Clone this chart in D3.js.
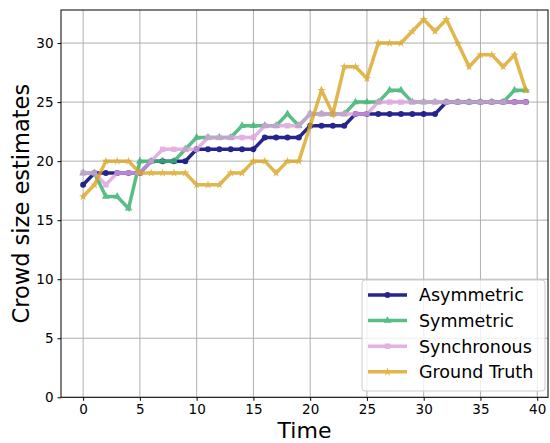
<!DOCTYPE html>
<html>
<head>
<meta charset="utf-8">
<script src="https://cdn.jsdelivr.net/npm/d3@7"></script>
<style>
  html, body { margin: 0; padding: 0; background: #fff; }
  svg { display: block; font-family: "DejaVu Sans", sans-serif; }
</style>
</head>
<body>
<svg id="chart" width="550" height="443"></svg>
<script>
const time = d3.range(0, 40);
const asymmetric = [18,19,19,19,19,19,20,20,20,20,21,21,21,21,21,21,22,22,22,22,23,23,23,23,24,24,24,24,24,24,24,24,25,25,25,25,25,25,25,25];
const symmetric  = [19,19,17,17,16,20,20,20,20,21,22,22,22,22,23,23,23,23,24,23,24,24,24,24,25,25,25,26,26,25,25,25,25,25,25,25,25,25,26,26];
const synchronous= [19,19,18,19,19,19,20,21,21,21,21,22,22,22,22,22,23,23,23,23,24,24,24,24,24,24,25,25,25,25,25,25,25,25,25,25,25,25,25,25];
const groundTruth= [17,18,20,20,20,19,19,19,19,19,18,18,18,19,19,20,20,19,20,20,23,26,24,28,28,27,30,30,30,31,32,31,32,30,28,29,29,28,29,26];
const seriesNames = ["Asymmetric", "Symmetric", "Synchronous", "Ground Truth"];
const xTicks = [0,5,10,15,20,25,30,35,40];
const yTicks = [0,5,10,15,20,25,30];

const series = [
  { name: seriesNames[0], values: asymmetric,  color: "#00007a", op: 0.85, symbol: d3.symbolCircle,   size: 28 },
  { name: seriesNames[1], values: symmetric,   color: "#3cb371", op: 0.85, symbol: d3.symbolTriangle, size: 26 },
  { name: seriesNames[2], values: synchronous, color: "#dda0dd", op: 0.8,  symbol: d3.symbolSquare,   size: 30 },
  { name: seriesNames[3], values: groundTruth, color: "#daa520", op: 0.8,  symbol: d3.symbolStar,     size: 22 }
];

const svg = d3.select("#chart");
const L = 61, R = 548, T = 10, B = 397.3;
const x = d3.scaleLinear().domain([-1.95, 40.95]).range([L, R]);
const y = d3.scaleLinear().domain([0, 32.8]).range([B, T]);

// grid
const g = svg.append("g");
g.selectAll("line.gx").data(xTicks).join("line")
  .attr("x1", d => x(d)).attr("x2", d => x(d)).attr("y1", T).attr("y2", B)
  .attr("stroke", "#b0b0b0").attr("stroke-width", 1);
g.selectAll("line.gy").data(yTicks).join("line")
  .attr("y1", d => y(d)).attr("y2", d => y(d)).attr("x1", L).attr("x2", R)
  .attr("stroke", "#b0b0b0").attr("stroke-width", 1);

// lines
const line = d3.line().x((d, i) => x(time[i])).y(d => y(d));
series.forEach(s => {
  const sg = svg.append("g").attr("opacity", s.op);
  sg.append("path").datum(s.values).attr("d", line)
    .attr("fill", "none").attr("stroke", s.color).attr("stroke-width", 3.5)
    .attr("stroke-linejoin", "miter");
  sg.selectAll("path.m").data(s.values).join("path")
    .attr("d", d3.symbol().type(s.symbol).size(s.size))
    .attr("transform", (d, i) => `translate(${x(time[i])},${y(d)})`)
    .attr("fill", s.color);
});

// axes
const xAxis = d3.axisBottom(x).tickValues(xTicks).tickSize(3.5).tickPadding(4);
const yAxis = d3.axisLeft(y).tickValues(yTicks).tickSize(3.5).tickPadding(4);
const xa = svg.append("g").attr("transform", `translate(0,${B})`).call(xAxis);
const ya = svg.append("g").attr("transform", `translate(${L},0)`).call(yAxis);
[xa, ya].forEach(a => {
  a.select(".domain").remove();
  a.selectAll("text").attr("font-size", 13.5).attr("fill", "#000").attr("font-family", "DejaVu Sans");
  a.selectAll("line").attr("stroke", "#000");
});

// frame
svg.append("rect").attr("x", L).attr("y", T).attr("width", R - L).attr("height", B - T)
  .attr("fill", "none").attr("stroke", "#000").attr("stroke-width", 1);

// labels
svg.append("text").attr("x", (L + R) / 2).attr("y", 438).attr("text-anchor", "middle")
  .attr("font-size", 22).text("Time");
svg.append("text").attr("transform", `translate(29,${(T + B) / 2}) rotate(-90)`)
  .attr("text-anchor", "middle").attr("font-size", 22.5).text("Crowd size estimates");

// legend
const lg = svg.append("g");
lg.append("rect").attr("x", 362).attr("y", 280).attr("width", 183).attr("height", 111)
  .attr("rx", 3).attr("fill", "#fff").attr("fill-opacity", 0.8)
  .attr("stroke", "#cccccc").attr("stroke-width", 1);
series.forEach((s, i) => {
  const yy = 295 + i * 25.6;
  const item = lg.append("g").attr("opacity", s.op);
  item.append("line").attr("x1", 368).attr("x2", 407).attr("y1", yy).attr("y2", yy)
    .attr("stroke", s.color).attr("stroke-width", 3.5);
  item.append("path").attr("d", d3.symbol().type(s.symbol).size(s.size))
    .attr("transform", `translate(387.5,${yy})`).attr("fill", s.color);
  lg.append("text").attr("x", 419).attr("y", yy).attr("dy", "0.36em")
    .attr("font-size", 17.5).text(s.name);
});
</script>
</body>
</html>
